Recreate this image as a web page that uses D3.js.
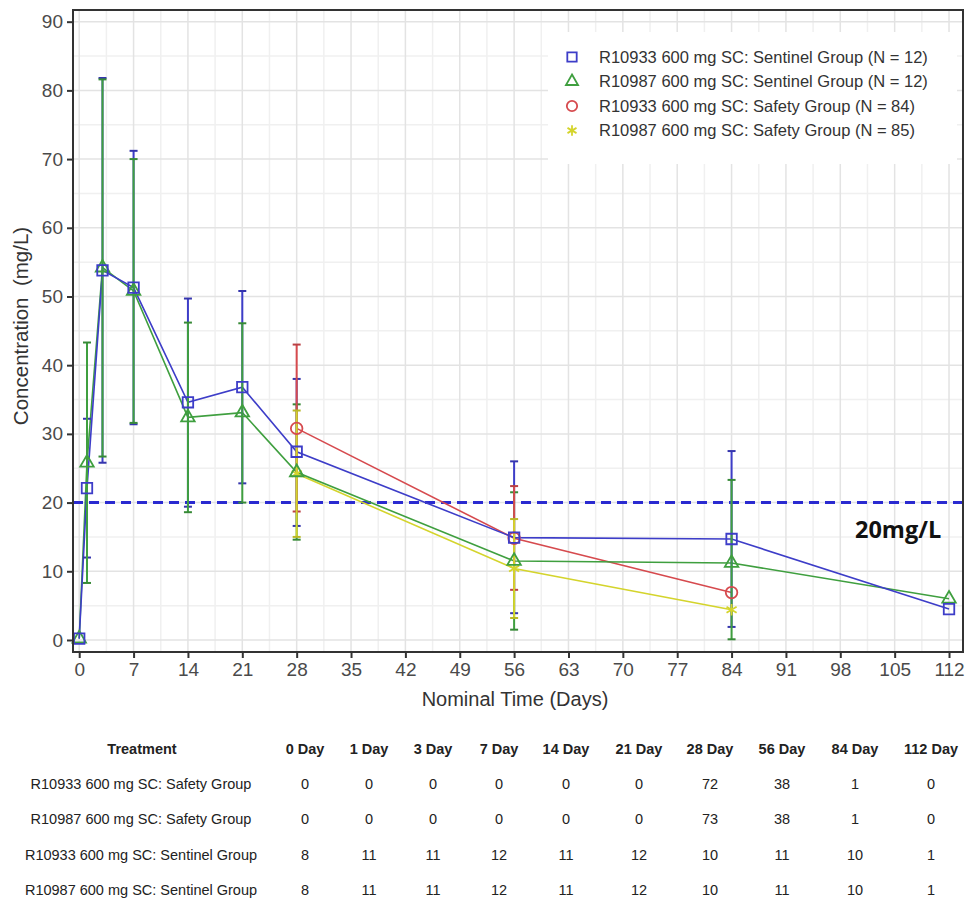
<!DOCTYPE html>
<html>
<head>
<meta charset="utf-8">
<script src="https://cdn.jsdelivr.net/npm/d3@7/dist/d3.min.js"></script>
<style>
  html, body { margin: 0; padding: 0; background: #fff; }
  svg { display: block; font-family: "Liberation Sans", Arial, sans-serif; }
</style>
</head>
<body>
<svg id="chart" width="966" height="902"></svg>
<script>
/* ── data ────────────────────────────────────────────────────────── */

const days = [0, 1, 3, 7, 14, 21, 28, 56, 84, 112];
const safetyDays = [28, 56, 84];

// R10933 600 mg SC: Sentinel Group (blue squares)
const r10933SentinelMean = [0.2, 22.1, 53.8, 51.3, 34.6, 36.8, 27.4, 14.9, 14.7, 4.5];
const r10933SentinelHi   = [null, 32.2, 81.8, 71.2, 49.7, 50.8, 38.0, 26.0, 27.5, null];
const r10933SentinelLo   = [null, 12.0, 25.8, 31.4, 19.4, 22.8, 16.6, 3.9, 1.9, null];

// R10987 600 mg SC: Sentinel Group (green triangles)
const r10987SentinelMean = [0.2, 25.8, 54.2, 50.8, 32.4, 33.1, 24.4, 11.5, 11.2, 6.0];
const r10987SentinelHi   = [null, 43.3, 81.6, 70.0, 46.2, 46.1, 34.3, 21.5, 23.3, null];
const r10987SentinelLo   = [null, 8.3, 26.7, 31.6, 18.6, 20.0, 14.6, 1.5, 0.1, null];

// R10933 600 mg SC: Safety Group (red circles)
const r10933SafetyMean = [30.8, 14.8, 6.9];
const r10933SafetyHi   = [43.0, 22.4, null];
const r10933SafetyLo   = [18.7, 7.3, null];

// R10987 600 mg SC: Safety Group (yellow stars)
const r10987SafetyMean = [24.2, 10.4, 4.4];
const r10987SafetyHi   = [33.4, 17.6, null];
const r10987SafetyLo   = [15.0, 3.2, null];

const legendLabels = [
  'R10933 600 mg SC: Sentinel Group (N = 12)',
  'R10987 600 mg SC: Sentinel Group (N = 12)',
  'R10933 600 mg SC: Safety Group (N = 84)',
  'R10987 600 mg SC: Safety Group (N = 85)'
];

const xTicks = d3.range(0, 113, 7);
const yTicks = d3.range(0, 91, 10);
const threshold = 20;

// number-of-subjects table under the plot
const tableHeader = ['0 Day', '1 Day', '3 Day', '7 Day', '14 Day', '21 Day', '28 Day', '56 Day', '84 Day', '112 Day'];
const tableTreatments = [
  'R10933 600 mg SC: Safety Group',
  'R10987 600 mg SC: Safety Group',
  'R10933 600 mg SC: Sentinel Group',
  'R10987 600 mg SC: Sentinel Group'
];
const tableCounts = [
  [0, 0, 0, 0, 0, 0, 72, 38, 1, 0],
  [0, 0, 0, 0, 0, 0, 73, 38, 1, 0],
  [8, 11, 11, 12, 11, 12, 10, 11, 10, 1],
  [8, 11, 11, 12, 11, 12, 10, 11, 10, 1]
];

/* ── build series ────────────────────────────────────────────────── */

function pack(xs, mean, hi, lo) {
  return xs.map((d, i) => ({ day: d, mean: mean[i], hi: hi[i], lo: lo[i] }));
}

const symStar = d3.symbolAsterisk || d3.symbolCross;
const symTri  = d3.symbolTriangle2 || d3.symbolTriangle;
const symSq   = d3.symbolSquare2 || d3.symbolSquare;

const blue   = { name: legendLabels[0], color: '#3d3dc8', sym: symSq, size: 140,
                 pts: pack(days, r10933SentinelMean, r10933SentinelHi, r10933SentinelLo) };
const green  = { name: legendLabels[1], color: '#3f9f3f', sym: symTri, size: 130,
                 pts: pack(days, r10987SentinelMean, r10987SentinelHi, r10987SentinelLo) };
const red    = { name: legendLabels[2], color: '#d64a4e', sym: d3.symbolCircle, size: 105,
                 pts: pack(safetyDays, r10933SafetyMean, r10933SafetyHi, r10933SafetyLo) };
const yellow = { name: legendLabels[3], color: '#d4d42c', sym: symStar, size: 95,
                 pts: pack(safetyDays, r10987SafetyMean, r10987SafetyHi, r10987SafetyLo) };

const lineOrder = [yellow, red, green, blue];
const barOrder  = [blue, green, red, yellow];
const legendOrder = [blue, green, red, yellow];

/* ── layout / scales ─────────────────────────────────────────────── */

const plot = { left: 73, right: 963, top: 10, bottom: 652 };

const x = d3.scaleLinear().domain([-0.8, 113.8]).range([plot.left, plot.right]);
const y = d3.scaleLinear().domain([-1.75, 91.7]).range([plot.bottom, plot.top]);

const svg = d3.select('#chart');
svg.append('rect').attr('width', 966).attr('height', 902).attr('fill', '#fff');

// grid (minor then major)
const grid = svg.append('g').attr('class', 'grid');
const minorX = d3.range(3.5, 113, 7);
const minorY = d3.range(5, 91, 10);
grid.selectAll('line.mx').data(minorX).join('line')
  .attr('x1', d => x(d)).attr('x2', d => x(d))
  .attr('y1', plot.top).attr('y2', plot.bottom)
  .attr('stroke', '#f0f0f0').attr('stroke-width', 1.5);
grid.selectAll('line.my').data(minorY).join('line')
  .attr('y1', d => y(d)).attr('y2', d => y(d))
  .attr('x1', plot.left).attr('x2', plot.right)
  .attr('stroke', '#f0f0f0').attr('stroke-width', 1.5);
grid.selectAll('line.gx').data(xTicks).join('line')
  .attr('x1', d => x(d)).attr('x2', d => x(d))
  .attr('y1', plot.top).attr('y2', plot.bottom)
  .attr('stroke', '#e3e3e3').attr('stroke-width', 1.5);
grid.selectAll('line.gy').data(yTicks).join('line')
  .attr('y1', d => y(d)).attr('y2', d => y(d))
  .attr('x1', plot.left).attr('x2', plot.right)
  .attr('stroke', '#e3e3e3').attr('stroke-width', 1.5);

// legend background hides the grid
svg.append('rect')
  .attr('x', 548).attr('y', 32).attr('width', 409).attr('height', 132)
  .attr('fill', '#fff');

// 20 mg/L reference line
svg.append('line')
  .attr('x1', plot.left).attr('x2', plot.right)
  .attr('y1', y(threshold)).attr('y2', y(threshold))
  .attr('stroke', '#2a2ad0').attr('stroke-width', 3)
  .attr('stroke-dasharray', '10,6');
svg.append('text')
  .attr('x', 855).attr('y', 538)
  .attr('font-family', '"Open Sans", "DejaVu Sans", sans-serif')
  .attr('font-weight', 'bold').attr('font-size', 23.5)
  .attr('fill', '#111')
  .text('20mg/L');

/* ── series ──────────────────────────────────────────────────────── */

const line = d3.line().x(d => x(d.day)).y(d => y(d.mean));

lineOrder.forEach(s => {
  svg.append('path')
    .datum(s.pts)
    .attr('d', line)
    .attr('fill', 'none')
    .attr('stroke', s.color)
    .attr('stroke-width', 1.6);
});

barOrder.forEach(s => {
  const g = svg.append('g').attr('class', 'errbars');
  const bars = s.pts.filter(d => d.hi != null);
  g.selectAll('line.v').data(bars).join('line')
    .attr('x1', d => x(d.day)).attr('x2', d => x(d.day))
    .attr('y1', d => y(d.hi)).attr('y2', d => y(d.lo))
    .attr('stroke', s.color).attr('stroke-width', 2);
  const caps = bars.flatMap(d => [{ day: d.day, v: d.hi }, { day: d.day, v: d.lo }]);
  g.selectAll('line.c').data(caps).join('line')
    .attr('x1', d => x(d.day) - 4).attr('x2', d => x(d.day) + 4)
    .attr('y1', d => y(d.v)).attr('y2', d => y(d.v))
    .attr('stroke', d3.color(s.color).darker(0.4)).attr('stroke-width', 2);
});

lineOrder.forEach(s => {
  const sym = d3.symbol().type(s.sym).size(s.size);
  svg.append('g').selectAll('path').data(s.pts).join('path')
    .attr('transform', d => `translate(${x(d.day)},${y(d.mean)})`)
    .attr('d', sym)
    .attr('fill', 'none')
    .attr('stroke', s.color)
    .attr('stroke-width', 1.8);
});

/* ── frame and axes ──────────────────────────────────────────────── */

svg.append('rect')
  .attr('x', plot.left).attr('y', plot.top)
  .attr('width', plot.right - plot.left).attr('height', plot.bottom - plot.top)
  .attr('fill', 'none').attr('stroke', '#333').attr('stroke-width', 2);

const xAxis = svg.append('g')
  .attr('transform', `translate(0,${plot.bottom})`)
  .call(d3.axisBottom(x).tickValues(xTicks).tickSize(6).tickPadding(5));
const yAxis = svg.append('g')
  .attr('transform', `translate(${plot.left},0)`)
  .call(d3.axisLeft(y).tickValues(yTicks).tickSize(6).tickPadding(4));

[xAxis, yAxis].forEach(ax => {
  ax.select('.domain').remove();
  ax.selectAll('.tick line').attr('stroke', '#333').attr('stroke-width', 2);
  ax.selectAll('.tick text')
    .attr('font-family', '"Liberation Sans", Arial, sans-serif')
    .attr('font-size', 19).attr('fill', '#4a4a4a');
});

svg.append('text')
  .attr('x', 515).attr('y', 706)
  .attr('text-anchor', 'middle')
  .attr('font-size', 20).attr('fill', '#333')
  .text('Nominal Time (Days)');

svg.append('text')
  .attr('transform', `translate(28,326) rotate(-90)`)
  .attr('text-anchor', 'middle')
  .attr('font-size', 20.5).attr('fill', '#333')
  .attr('xml:space', 'preserve')
  .text('Concentration  (mg/L)');

/* ── legend ──────────────────────────────────────────────────────── */

const leg = svg.append('g').attr('class', 'legend');
legendOrder.forEach((s, i) => {
  const ly = 57 + i * 24.5;
  leg.append('path')
    .attr('transform', `translate(572,${ly})`)
    .attr('d', d3.symbol().type(s.sym).size(s.size * 0.8))
    .attr('fill', 'none').attr('stroke', s.color).attr('stroke-width', 1.8);
  leg.append('text')
    .attr('x', 599).attr('y', ly).attr('dy', '0.35em')
    .attr('font-size', 16.5).attr('fill', '#333')
    .text(s.name);
});

/* ── subjects table ──────────────────────────────────────────────── */

const colX = [305, 369, 433, 499, 566, 639, 710, 782, 855, 931];
const rowY = [784, 819, 855, 890];
const tbl = svg.append('g').attr('class', 'table')
  .attr('font-size', 14.5).attr('fill', '#222').attr('text-anchor', 'middle');

tbl.append('text').attr('x', 142).attr('y', 749).attr('dy', '0.35em')
  .attr('font-weight', 'bold').text('Treatment');
tbl.selectAll('text.h').data(tableHeader).join('text')
  .attr('class', 'h')
  .attr('x', (d, i) => colX[i]).attr('y', 749).attr('dy', '0.35em')
  .attr('font-weight', 'bold').text(d => d);

tableTreatments.forEach((t, r) => {
  tbl.append('text').attr('x', 141).attr('y', rowY[r]).attr('dy', '0.35em').text(t);
  tbl.append('g').selectAll('text').data(tableCounts[r]).join('text')
    .attr('x', (d, i) => colX[i]).attr('y', rowY[r]).attr('dy', '0.35em')
    .text(d => d);
});
</script>
</body>
</html>
